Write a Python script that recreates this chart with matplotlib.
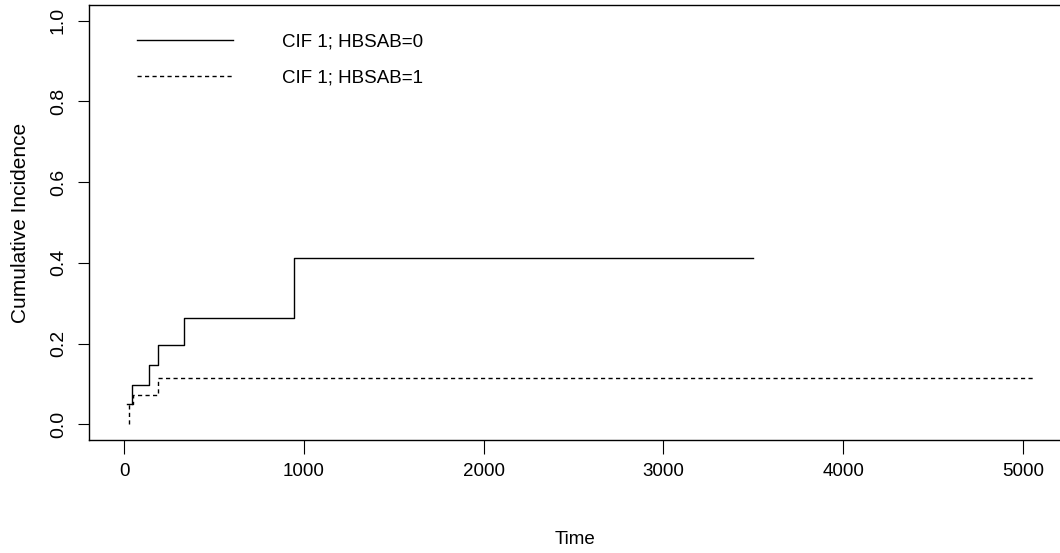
import matplotlib
matplotlib.use("Agg")
import matplotlib.pyplot as plt

# Data
time_g0 = [13, 45, 136, 186, 334, 946, 3499]
cif_g0 = [0.050, 0.097, 0.146, 0.196, 0.263, 0.411, 0.411]
time_g1 = [28, 28, 48, 189, 5057]
cif_g1 = [0.0, 0.050, 0.073, 0.115, 0.115]
labels = ["CIF 1; HBSAB=0", "CIF 1; HBSAB=1"]
xticks = [0, 1000, 2000, 3000, 4000, 5000]
yticks = [0.0, 0.2, 0.4, 0.6, 0.8, 1.0]

W, H = 1060, 553
fig = plt.figure(figsize=(W / 100, H / 100), dpi=100)
left, right, top, bottom = 89, 1062, 4.6, 440.4
ax = fig.add_axes([left / W, (H - bottom) / H, (right - left) / W, (bottom - top) / H])

regular = ["Liberation Sans", "DejaVu Sans"]

ax.plot(time_g0, cif_g0, drawstyle="steps-post", color="black", lw=1.0, label=labels[0])
ax.plot(time_g1, cif_g1, drawstyle="steps-post", color="black", lw=1.0,
        linestyle=(0, (3, 2.4)), label=labels[1])

ax.set_xlim(-196.4, 5218)
ax.set_ylim(-0.04, 1.04)
ax.set_xticks(xticks)
ax.set_xticklabels([str(v) for v in xticks], fontfamily=regular, fontsize=13.5)
ax.set_yticks(yticks)
ax.set_yticklabels([f"{v:.1f}" for v in yticks], fontfamily=regular, fontsize=14,
                   rotation=90, va="center")
ax.tick_params(axis="x", length=10, width=0.8, pad=6)
ax.tick_params(axis="y", length=8, width=0.8, pad=8)
for s in ax.spines.values():
    s.set_linewidth(1.0)

ax.set_xlabel("Time", fontfamily=regular, fontsize=13.5, labelpad=37)
ax.set_ylabel("Cumulative Incidence", fontfamily=regular, fontsize=15, labelpad=14)

leg = ax.legend(loc="upper left", bbox_to_anchor=(0.032, 0.973), frameon=False,
                prop={"family": regular, "size": 13.5}, handlelength=5.1,
                handletextpad=2.65, labelspacing=1.0)

fig.savefig("out.png", dpi=100)
